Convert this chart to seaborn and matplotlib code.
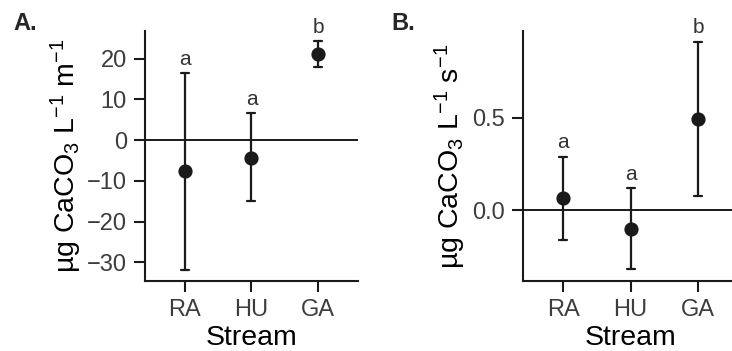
import matplotlib
matplotlib.use("Agg")
import matplotlib.pyplot as plt
import seaborn as sns
import pandas as pd

# Stream sites
streams = ["RA", "HU", "GA"]

# Panel A: CaCO3 uptake per metre (mean with lower / upper interval)
a_mean = [-7.6, -4.3, 21.1]
a_low = [-31.9, -15.0, 17.9]
a_high = [16.5, 6.7, 24.3]
a_letters = ["a", "a", "b"]

# Panel B: CaCO3 uptake per second (mean with lower / upper interval)
b_mean = [0.068, -0.10, 0.496]
b_low = [-0.159, -0.32, 0.076]
b_high = [0.29, 0.119, 0.914]
b_letters = ["a", "a", "b"]

sns.set_theme(style="ticks")
plt.rcParams["font.family"] = ["Liberation Sans", "DejaVu Sans"]
plt.rcParams["mathtext.fontset"] = "custom"
plt.rcParams["mathtext.rm"] = "Liberation Sans"
plt.rcParams["mathtext.it"] = "Liberation Sans:italic"
plt.rcParams["mathtext.bf"] = "Liberation Sans:bold"

INK = "#1a1a1a"
TICK_TXT = "#3d3d3d"


def long_table(mean, low, high):
    # three rows per stream: median gives the mean, min/max give the interval
    rows = []
    for s, m, lo, hi in zip(streams, mean, low, high):
        for v in (lo, m, hi):
            rows.append({"Stream": s, "value": v})
    return pd.DataFrame(rows)


def draw_panel(ax, mean, low, high, letters, ylim, yticks, yticklabels, ylabel, ypad):
    df = long_table(mean, low, high)
    ax.axhline(0, color=INK, lw=1.4, zorder=1)
    sns.pointplot(
        data=df, x="Stream", y="value", order=streams,
        estimator="median", errorbar=lambda v: (v.min(), v.max()),
        color=INK, linestyle="none", markersize=8.2, capsize=0.12,
        err_kws={"linewidth": 1.6}, ax=ax, zorder=3,
    )
    for i, (hi, lab) in enumerate(zip(high, letters)):
        ax.annotate(lab, xy=(i, hi), xytext=(0, 6), textcoords="offset points",
                    ha="center", va="baseline", fontsize=15, color="#333333")
    ax.set_xlim(-0.6, 2.6)
    ax.set_ylim(*ylim)
    ax.set_yticks(yticks)
    ax.set_yticklabels(yticklabels)
    ax.set_xlabel("Stream", fontsize=20.5, color="black", labelpad=3)
    ax.set_ylabel(ylabel, fontsize=20.5, color="black", labelpad=ypad)
    ax.tick_params(axis="both", length=8, width=1.5, color=INK,
                   labelsize=17, labelcolor=TICK_TXT, pad=5)
    for side in ("top", "right"):
        ax.spines[side].set_visible(False)
    for side in ("left", "bottom"):
        ax.spines[side].set_linewidth(1.5)
        ax.spines[side].set_color(INK)


fig = plt.figure(figsize=(7.32, 3.51), dpi=100)
ax_a = fig.add_axes([0.198, 0.1994, 0.291, 0.7123])
ax_b = fig.add_axes([0.714, 0.1994, 0.295, 0.7123])

draw_panel(ax_a, a_mean, a_low, a_high, a_letters, (-34.6, 26.8),
           [-30, -20, -10, 0, 10, 20],
           ["\u221230", "\u221220", "\u221210", "0", "10", "20"],
           r"µg CaCO$_3$ L$^{-1}$ m$^{-1}$", 2)
draw_panel(ax_b, b_mean, b_low, b_high, b_letters, (-0.383, 0.971),
           [0.0, 0.5], ["0.0", "0.5"],
           r"µg CaCO$_3$ L$^{-1}$ s$^{-1}$", 2.5)

fig.text(13 / 732, 1 - 30 / 351, "A.", fontsize=17, fontweight="bold",
         va="baseline", ha="left")
fig.text(391 / 732, 1 - 30 / 351, "B.", fontsize=17, fontweight="bold",
         va="baseline", ha="left")

fig.savefig("out.png", dpi=100)
